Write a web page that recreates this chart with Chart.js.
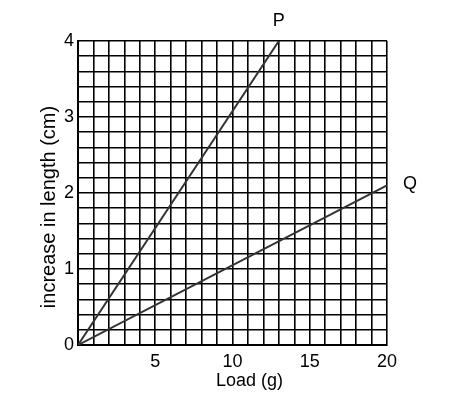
<!DOCTYPE html>
<html>
<head>
<meta charset="utf-8">
<script src="https://cdn.jsdelivr.net/npm/chart.js@4/dist/chart.umd.min.js"></script>
<style>
  body { margin: 0; background: #fff; }
  #wrap { width: 451px; height: 407px; }
</style>
</head>
<body>
<div id="wrap"><canvas id="myChart" width="451" height="407"></canvas></div>
<script>
// data
const loadP = [0, 13];
const lengthP = [0, 4];
const loadQ = [0, 20];
const lengthQ = [0, 2.1];
const lineNames = ['P', 'Q'];
const xTickLabels = [5, 10, 15, 20];
const yTickLabels = [0, 1, 2, 3, 4];
const xTitle = 'Load (g)';
const yTitle = 'increase in length (cm)';

const FAMILY = '"Liberation Sans", Arial, sans-serif';

const extraText = {
    id: 'extraText',
    afterDatasetsDraw(chart) {
        const ctx = chart.ctx;
        const x = chart.scales.x, y = chart.scales.y;
        const area = chart.chartArea;
        ctx.save();
        ctx.fillStyle = '#000';
        ctx.font = '18px ' + FAMILY;
        // P sits above the end of its line, Q to the right of its end
        ctx.textAlign = 'center';
        ctx.textBaseline = 'middle';
        ctx.fillText(lineNames[0], x.getPixelForValue(loadP[1]), y.getPixelForValue(lengthP[1]) - 20);
        ctx.textAlign = 'left';
        ctx.fillText(lineNames[1], x.getPixelForValue(loadQ[1]) + 16, y.getPixelForValue(lengthQ[1]) - 1);
        // axis titles, both a little off the middle like the original
        ctx.textAlign = 'center';
        ctx.fillText(xTitle, (area.left + area.right) / 2 + 17, area.bottom + 36);
        ctx.font = '20px ' + FAMILY;
        ctx.translate(area.left - 29, (area.top + area.bottom) / 2 + 14);
        ctx.rotate(-Math.PI / 2);
        ctx.fillText(yTitle, 0, 0);
        ctx.restore();
    }
};

const font = { family: FAMILY, size: 18, lineHeight: 1 };

new Chart(document.getElementById('myChart'), {
    type: 'line',
    data: {
        datasets: [{
            label: lineNames[0],
            data: loadP.map((v, i) => ({ x: v, y: lengthP[i] })),
            borderColor: '#333',
            borderWidth: 2,
            pointRadius: 0
        }, {
            label: lineNames[1],
            data: loadQ.map((v, i) => ({ x: v, y: lengthQ[i] })),
            borderColor: '#333',
            borderWidth: 2,
            pointRadius: 0
        }]
    },
    options: {
        responsive: false,
        animation: false,
        layout: { padding: { top: 41, right: 64, left: 60, bottom: 28 } },
        plugins: { legend: { display: false }, tooltip: { enabled: false } },
        scales: {
            x: {
                type: 'linear',
                min: 0,
                max: 20,
                border: { color: '#000', width: 2 },
                grid: { color: '#000', lineWidth: 1.6, drawTicks: false },
                ticks: {
                    stepSize: 1,
                    autoSkip: false,
                    maxRotation: 0,
                    padding: 8,
                    color: '#000',
                    font: font,
                    callback: v => xTickLabels.includes(v) ? String(v) : ''
                }
            },
            y: {
                min: 0,
                max: 4,
                border: { color: '#000', width: 2 },
                grid: { color: '#000', lineWidth: 1.6, drawTicks: false },
                ticks: {
                    stepSize: 0.2,
                    autoSkip: false,
                    padding: 4,
                    color: '#000',
                    font: font,
                    callback: v => {
                        const r = Math.round(v * 10) / 10;
                        return yTickLabels.includes(r) ? String(r) : '';
                    }
                }
            }
        }
    },
    plugins: [extraText]
});
</script>
</body>
</html>
